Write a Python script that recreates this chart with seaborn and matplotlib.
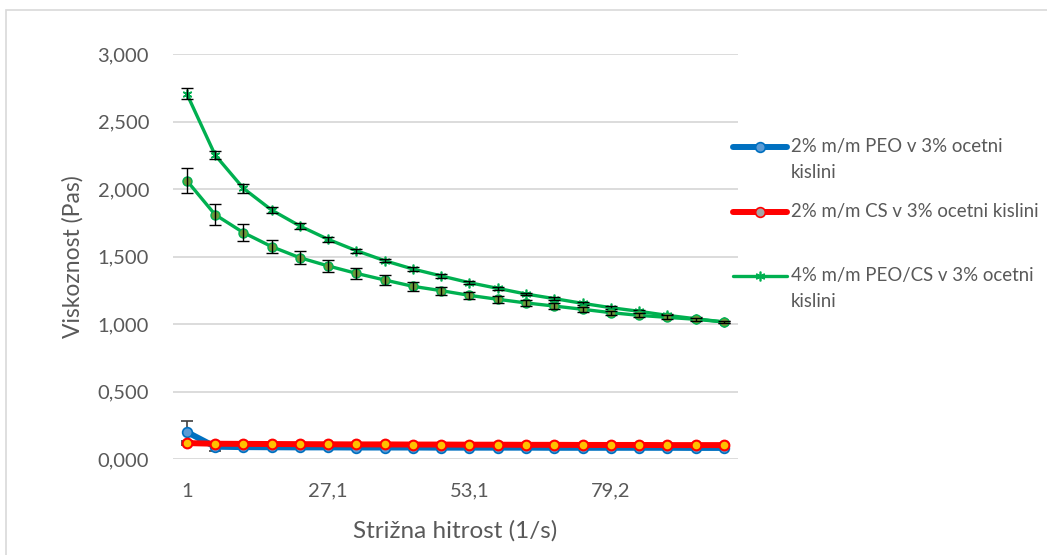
import numpy as np
import matplotlib
matplotlib.use("Agg")
import matplotlib.pyplot as plt
import seaborn as sns
from matplotlib.lines import Line2D
from matplotlib.patches import Rectangle
from matplotlib.ticker import FuncFormatter, FixedLocator

# ---------------- data ----------------
shear_rate = [1, 6.2, 11.4, 16.6, 21.8, 27.1, 32.3, 37.5, 42.7, 47.9,
              53.1, 58.3, 63.5, 68.7, 73.9, 79.2, 84.4, 89.6, 94.8, 100]

peo = [0.200, 0.091, 0.088, 0.087, 0.086, 0.086, 0.085, 0.085, 0.085, 0.084,
       0.084, 0.084, 0.084, 0.083, 0.083, 0.083, 0.083, 0.083, 0.082, 0.082]
peo_err = [0.085, 0.035, 0.015, 0.015, 0.014, 0.014, 0.013, 0.013, 0.013, 0.012,
           0.012, 0.012, 0.012, 0.012, 0.011, 0.011, 0.011, 0.011, 0.011, 0.011]

cs = [0.118, 0.113, 0.112, 0.111, 0.110, 0.109, 0.108, 0.108, 0.107, 0.107,
      0.106, 0.106, 0.105, 0.105, 0.104, 0.104, 0.104, 0.103, 0.103, 0.103]
cs_err = [0.012, 0.010, 0.010, 0.010, 0.010, 0.010, 0.010, 0.010, 0.010, 0.010,
          0.010, 0.010, 0.010, 0.010, 0.010, 0.010, 0.010, 0.010, 0.010, 0.010]

peo_cs = [2.705, 2.252, 2.005, 1.844, 1.726, 1.627, 1.543, 1.469, 1.407, 1.356,
          1.306, 1.264, 1.222, 1.188, 1.153, 1.121, 1.094, 1.064, 1.039, 1.015]
peo_cs_err = [0.040, 0.033, 0.035, 0.025, 0.020, 0.018, 0.015, 0.013, 0.012, 0.012,
              0.011, 0.011, 0.010, 0.010, 0.010, 0.010, 0.010, 0.010, 0.010, 0.010]

peo_cs_b = [2.062, 1.810, 1.677, 1.573, 1.491, 1.430, 1.375, 1.326, 1.279, 1.247,
            1.212, 1.183, 1.156, 1.133, 1.109, 1.084, 1.064, 1.049, 1.035, 1.015]
peo_cs_b_err = [0.090, 0.078, 0.062, 0.050, 0.050, 0.043, 0.040, 0.037, 0.033, 0.030,
                0.027, 0.025, 0.022, 0.020, 0.018, 0.016, 0.015, 0.014, 0.012, 0.010]

legend_labels = ["2% m/m PEO v 3% ocetni\nkislini",
                 "2% m/m CS v 3% ocetni kislini",
                 "4% m/m PEO/CS v 3% ocetni\nkislini"]
x_title = "Strižna hitrost (1/s)"
y_title = "Viskoznost (Pas)"

# ---------------- style ----------------
sns.set_theme(style="white")
plt.rcParams['font.family'] = ['Lato', 'DejaVu Sans']
TXT = "#595959"
GRID = "#D9D9D9"

W, H = 1047, 555
fig = plt.figure(figsize=(W / 100, H / 100), dpi=100)
fig.patch.set_facecolor("white")

# chart border (cropped at right/bottom)
fig.add_artist(Rectangle((6 / W, -0.05), 1.2, 1 - 10 / H + 0.05,
                         transform=fig.transFigure, fill=False,
                         edgecolor=GRID, linewidth=1.2))

left, right = 172.7 / W, 738 / W
top, bottom = 1 - 54 / H, 1 - 459 / H
ax = fig.add_axes([left, bottom, right - left, top - bottom])

pos = np.arange(len(shear_rate))

BLUE = "#0070C0"
BLUE_FILL = "#5B9BD5"
RED = "#FF0000"
YEL = "#FFC000"
GREEN = "#00B050"
OLIVE = "#6A9A3A"

# blue series
sns.lineplot(x=pos, y=peo, ax=ax, color=BLUE, linewidth=4.3, marker="o",
             markersize=7, markerfacecolor=BLUE_FILL, markeredgecolor=BLUE,
             markeredgewidth=1.2, zorder=3, legend=False)
ax.errorbar(pos, peo, yerr=peo_err, fmt="none", ecolor="#404040",
            elinewidth=1.2, capsize=4.3, capthick=1.2, zorder=2.5)

# red series
ax.errorbar(pos, cs, yerr=cs_err, fmt="none", ecolor="#404040",
            elinewidth=1.2, capsize=4.3, capthick=1.2, zorder=3.5)
sns.lineplot(x=pos, y=cs, ax=ax, color=RED, linewidth=4.3, marker="o",
             markersize=7, markerfacecolor=YEL, markeredgecolor=RED,
             markeredgewidth=1.5, zorder=4, legend=False)

# green (star) series
sns.lineplot(x=pos, y=peo_cs, ax=ax, color=GREEN, linewidth=2.4,
             marker=(6, 2, 0), markersize=7, markeredgecolor=GREEN,
             markeredgewidth=1.2, zorder=5, legend=False)
ax.errorbar(pos, peo_cs, yerr=peo_cs_err, fmt="none", ecolor="black",
            elinewidth=1.0, capsize=4.3, capthick=1.0, zorder=5.5)

# green (circle) series
sns.lineplot(x=pos, y=peo_cs_b, ax=ax, color=GREEN, linewidth=2.4,
             marker="o", markersize=6.5, markerfacecolor=OLIVE,
             markeredgecolor=GREEN, markeredgewidth=1.0, zorder=6,
             legend=False)
ax.errorbar(pos, peo_cs_b, yerr=peo_cs_b_err, fmt="none", ecolor="black",
            elinewidth=1.0, capsize=4.3, capthick=1.0, zorder=6.5)

# axes
ax.set_xlim(-0.5, len(pos) - 0.5)
ax.set_ylim(0, 3.0)
ax.yaxis.set_major_locator(FixedLocator(np.arange(0, 3.01, 0.5)))
ax.yaxis.set_major_formatter(FuncFormatter(lambda v, p: f"{v:.3f}".replace(".", ",")))
tick_idx = pos[::5]
ax.set_xticks(tick_idx)
ax.set_xticklabels([f"{shear_rate[i]:g}".replace(".", ",") for i in tick_idx])
ax.grid(axis="y", color=GRID, linewidth=1.3)
ax.grid(axis="x", visible=False)
for s in ax.spines.values():
    s.set_visible(False)
ax.tick_params(axis="both", length=0, labelsize=14.5, colors=TXT)
ax.tick_params(axis="y", pad=17)
ax.tick_params(axis="x", pad=17)
ax.set_facecolor("white")

fig.text((172.7 + 738) / 2 / W, 1 - 531 / H, x_title, ha="center", va="center",
         fontsize=17.5, color=TXT)
fig.text(73 / W, 1 - 257 / H, y_title, ha="center", va="center",
         rotation=90, fontsize=16.5, color=TXT)

# legend (drawn manually, top-aligned entries)
entries = [
    dict(color=BLUE, lw=4.3, marker="o", ms=7, mfc=BLUE_FILL, mec=BLUE),
    dict(color=RED, lw=4.3, marker="o", ms=7, mfc="#A5A5A5", mec=RED),
    dict(color=GREEN, lw=2.4, marker=(6, 2, 0), ms=7, mfc=GREEN, mec=GREEN),
]
line_y = [147, 212, 276]
for e, ly, lab in zip(entries, line_y, legend_labels):
    yy = 1 - ly / H
    fig.add_artist(Line2D([733 / W, 787 / W], [yy, yy], transform=fig.transFigure,
                          color=e["color"], linewidth=e["lw"],
                          solid_capstyle="round"))
    fig.add_artist(Line2D([760 / W], [yy], transform=fig.transFigure,
                          marker=e["marker"], markersize=e["ms"],
                          markerfacecolor=e["mfc"], markeredgecolor=e["mec"],
                          markeredgewidth=1.2, linestyle="none"))
    fig.text(791 / W, yy + 9 / H, lab, ha="left", va="top", fontsize=13.4,
             color=TXT, linespacing=1.65)

fig.savefig("out.png", dpi=100, facecolor="white")
